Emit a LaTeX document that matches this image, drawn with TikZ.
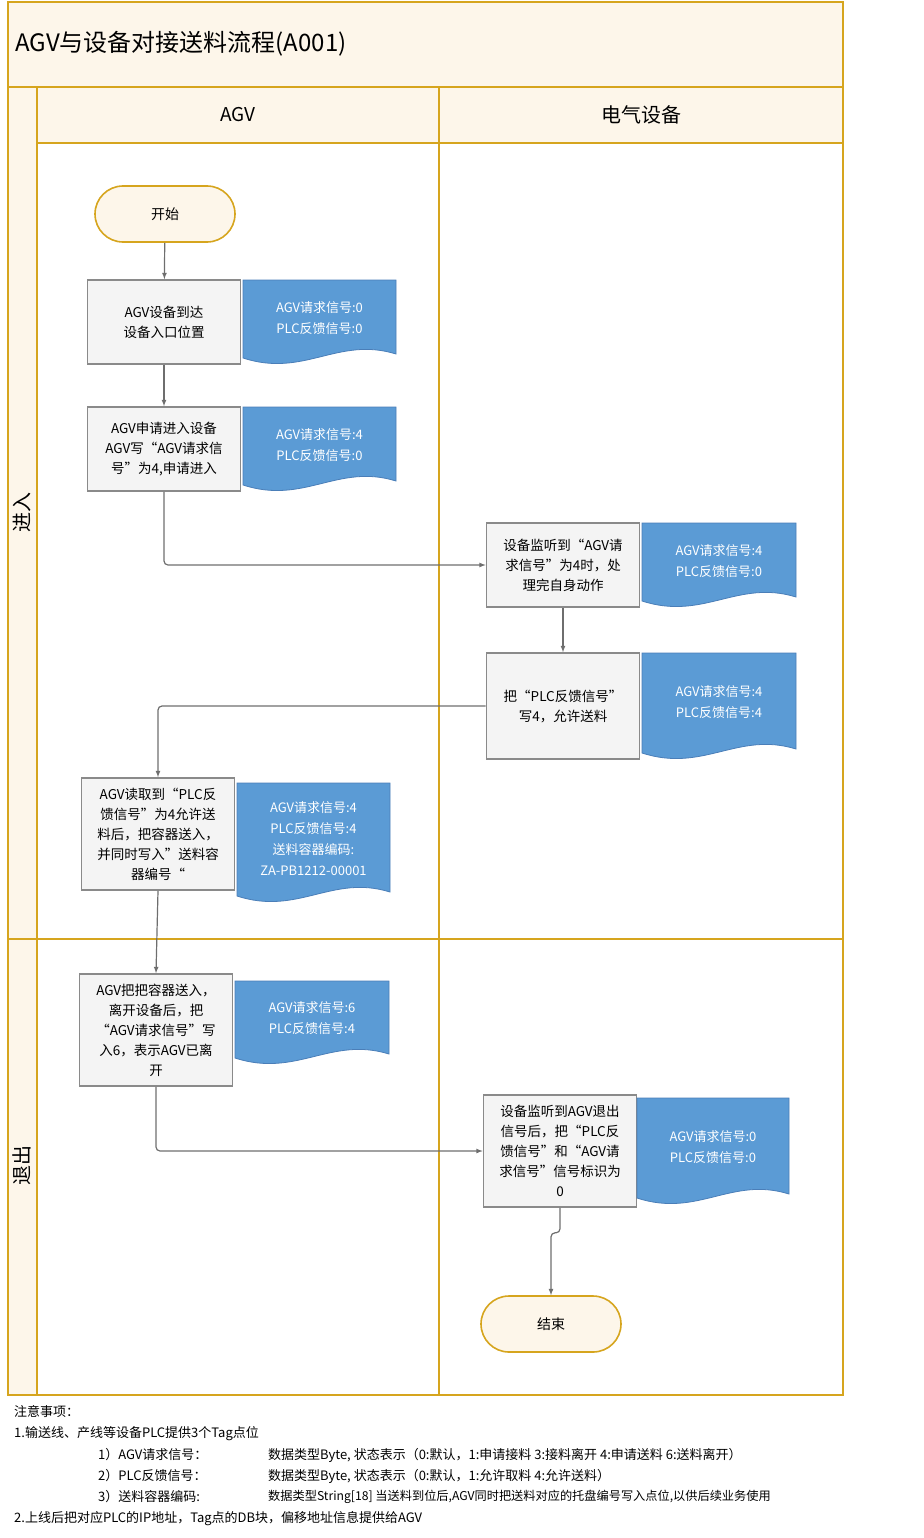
\documentclass[tikz,border=0pt]{standalone}
\usepackage{fontspec}
\setmainfont{Noto Sans CJK SC}
\usetikzlibrary{positioning}
\definecolor{laneline}{HTML}{D6A51E}
\definecolor{lanefill}{HTML}{FDF6EA}
\definecolor{docblue}{HTML}{5B9BD5}
\definecolor{docedge}{HTML}{4A7EB8}
\definecolor{boxfill}{HTML}{F4F4F4}
\definecolor{boxedge}{HTML}{8A8A8A}
\definecolor{flowgray}{HTML}{6E6E6E}
\tikzset{
  task/.style={draw=boxedge, line width=1.6pt, fill=boxfill, align=center,
    font=\fontsize{13.5}{20}\selectfont, inner sep=1pt},
  term/.style={draw=laneline, line width=1.6pt, fill=lanefill, rounded corners=28pt,
    minimum width=140pt, minimum height=56pt, font=\fontsize{14}{16}\selectfont},
  flow/.style={draw=flowgray, line width=1.2pt, -latex, rounded corners=4pt},
  sig/.style={text=white, align=center, font=\fontsize{13}{21}\selectfont},
  note/.style={anchor=west, font=\fontsize{13}{15}\selectfont, inner sep=0pt},
}
% document shape: name, x1, y1, x2, y2, text
\newcommand{\sigdoc}[6]{%
  \fill[docblue, draw=docedge, line width=0.8pt]
    (#2,#3) -- (#4,#3) -- (#4,#5-16)
    .. controls ({#2+0.62*(#4-#2)},#5-34) and ({#2+0.4*(#4-#2)},#5+8) .. (#2,#5-12) -- cycle;
  \node[sig] (#1) at ({(#2+#4)/2},{#3+(#5-#3-14)/2}) {#6};}
\begin{document}
\begin{tikzpicture}[x=1pt, y=-1pt]
\useasboundingbox (0,0) rectangle (923,1538);
% lanes
\fill[lanefill] (8,2) rectangle (843,143);
\fill[lanefill] (8,143) rectangle (37,1395);
\draw[laneline, line width=1.6pt] (8,2) rectangle (843,1395);
\draw[laneline, line width=1.6pt] (8,87) -- (843,87);
\draw[laneline, line width=1.6pt] (37,143) -- (843,143);
\draw[laneline, line width=1.6pt] (37,87) -- (37,1395);
\draw[laneline, line width=1.6pt] (439,87) -- (439,1395);
\draw[laneline, line width=1.6pt] (8,939) -- (843,939);
\node[anchor=west, font=\fontsize{24}{28}\selectfont] (title) at (12,44) {AGV与设备对接送料流程(A001)};
\node[font=\fontsize{19}{22}\selectfont] (colagv) at (238,115) {AGV};
\node[font=\fontsize{20}{22}\selectfont] (coldev) at (641,115) {电气设备};
\node[rotate=90, font=\fontsize{20}{22}\selectfont] (lanein) at (22,512) {进入};
\node[rotate=90, font=\fontsize{20}{22}\selectfont] (laneout) at (22,1165) {退出};

% steps
\node[task, minimum width=153pt, minimum height=84pt] (arrive) at (164,322) {AGV设备到达\\设备入口位置};
\node[term] (start) at (165,214) {开始};
\sigdoc{sarrive}{243}{280}{396}{370}{AGV请求信号:0\\PLC反馈信号:0}
\node[task, minimum width=153pt, minimum height=84pt] (ask) at (164,449) {AGV申请进入设备\\AGV写“AGV请求信\\号”为4,申请进入};
\sigdoc{sask}{243}{407}{396}{497}{AGV请求信号:4\\PLC反馈信号:0}
\node[task, minimum width=153pt, minimum height=84pt] (listen) at (563,565) {设备监听到“AGV请\\求信号”为4时，处\\理完自身动作};
\sigdoc{slisten}{642}{523}{796}{613}{AGV请求信号:4\\PLC反馈信号:0}
\node[task, minimum width=153pt, minimum height=106pt] (allow) at (563,706) {把“PLC反馈信号”\\写4，允许送料};
\sigdoc{sallow}{642}{653}{796}{765}{AGV请求信号:4\\PLC反馈信号:4}
\node[task, minimum width=153pt, minimum height=112pt] (feed) at (158,834) {AGV读取到“PLC反\\馈信号”为4允许送\\料后，把容器送入，\\并同时写入”送料容\\器编号“};
\sigdoc{sfeed}{237}{783}{390}{908}{AGV请求信号:4\\PLC反馈信号:4\\送料容器编码:\\ZA-PB1212-00001}
\node[task, minimum width=153pt, minimum height=112pt] (leave) at (156,1030) {AGV把把容器送入，\\离开设备后，把\\“AGV请求信号”写\\入6，表示AGV已离\\开};
\sigdoc{sleave}{235}{981}{389}{1070}{AGV请求信号:6\\PLC反馈信号:4}
\node[task, minimum width=153pt, minimum height=112pt] (reset) at (560,1151) {设备监听到AGV退出\\信号后，把“PLC反\\馈信号”和“AGV请\\求信号”信号标识为\\0};
\sigdoc{sreset}{637}{1098}{789}{1210}{AGV请求信号:0\\PLC反馈信号:0}
\node[term] (end) at (551,1324) {结束};

% connectors
\draw[flow] (start) -- (arrive);
\draw[flow] (arrive) -- (ask);
\draw[flow] (ask.south) |- (listen.west);
\draw[flow] (listen) -- (allow);
\draw[flow] (allow.west) -| (feed.north);
\draw[flow] (feed.south) -- (leave.north);
\draw[flow] (leave.south) |- (reset.west);
\draw[flow] (reset.south) -- ++(0,25) -| (end.north);

% notes
\node[note] (n0) at (14,1412) {注意事项：};
\node[note] (n1) at (14,1434) {1.输送线、产线等设备PLC提供3个Tag点位};
\node[note] (n2) at (98,1455) {1）AGV请求信号：};
\node[note] (n2v) at (268,1455) {数据类型Byte, 状态表示（0:默认，1:申请接料\ 3:接料离开\ 4:申请送料\ 6:送料离开）};
\node[note] (n3) at (98,1476) {2）PLC反馈信号：};
\node[note] (n3v) at (268,1476) {数据类型Byte, 状态表示（0:默认，1:允许取料\ 4:允许送料）};
\node[note] (n4) at (98,1497) {3）送料容器编码:};
\node[note, font=\fontsize{12.2}{15}\selectfont] (n4v) at (268,1497) {数据类型String[18] 当送料到位后,AGV同时把送料对应的托盘编号写入点位,以供后续业务使用};
\node[note] (n5) at (14,1519) {2.上线后把对应PLC的IP地址，Tag点的DB块，偏移地址信息提供给AGV};
\end{tikzpicture}
\end{document}
